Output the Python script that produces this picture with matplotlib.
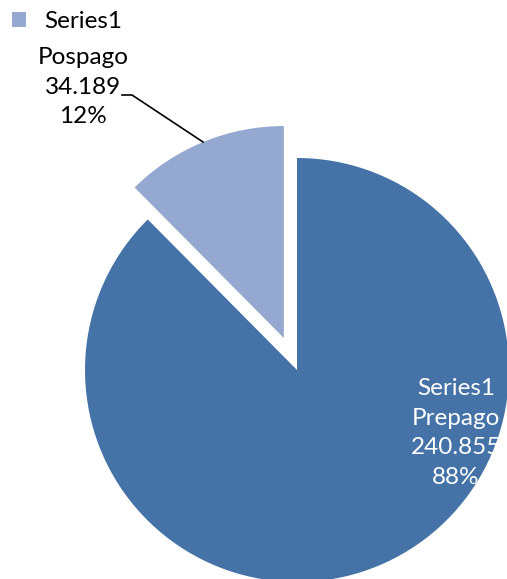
import matplotlib.pyplot as plt

# data
series_name = "Series1"
categories = ["Prepago", "Pospago"]
values = [240.855, 34.189]
percents = ["88%", "12%"]
colors = ["#4572A7", "#95A9D0"]

W, H = 507, 579
fig = plt.figure(figsize=(W / 100, H / 100), dpi=100)
ax = fig.add_axes([0, 0, 1, 1])

font = "Lato"
fs = 17.5

# pie in pixel coords (y measured from bottom)
cx, cy, r = 297, H - 370, 212
wedges, _ = ax.pie(values, colors=colors, startangle=90, counterclock=False,
                   explode=[0, 0.163 * r], center=(cx, cy), radius=r,
                   wedgeprops=dict(linewidth=0), frame=True)

ax.set_xlim(0, W)
ax.set_ylim(0, H)
ax.set_aspect("equal")
ax.axis("off")

# data labels
lbl_pre = f"{series_name}\n{categories[0]}\n{values[0]:.3f}\n{percents[0]}"
lbl_pos = f"{categories[1]}\n{values[1]:.3f}\n{percents[1]}"
ax.text(456, H - 433, lbl_pre, color="white", ha="center", va="center",
        fontsize=fs, family=font, linespacing=1.51)
ax.text(83, H - 87, lbl_pos, color="black", ha="center", va="center",
        fontsize=fs, family=font, linespacing=1.51)

# leader line
ax.plot([122, 132, 203], [H - 95, H - 95, H - 142], color="black", lw=1.2)

# legend
leg = ax.legend([wedges[1]], [series_name], loc="upper left",
                bbox_to_anchor=(12 / W, 1 - 11 / H), frameon=False,
                prop=dict(family=font, size=fs), handlelength=0.58,
                handleheight=0.58, handletextpad=0.75, borderpad=0,
                borderaxespad=0)

fig.savefig("out.png", dpi=100)
